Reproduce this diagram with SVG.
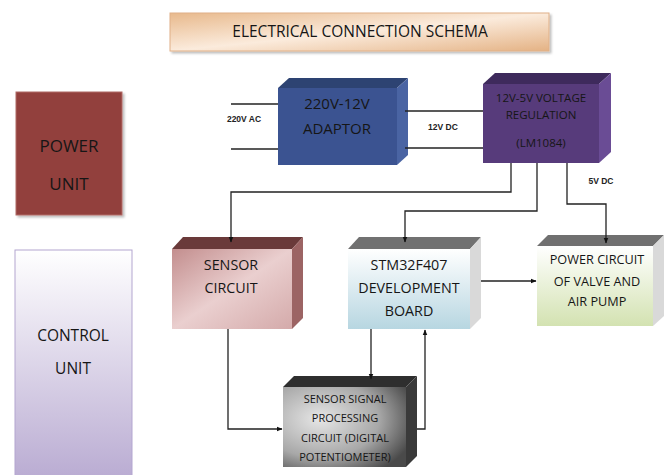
<svg xmlns="http://www.w3.org/2000/svg" width="664" height="475" viewBox="0 0 664 475">
<defs>
<linearGradient id="gTitle" x1="0" y1="0" x2="1" y2="1">
<stop offset="0" stop-color="#E8B98C"/><stop offset="0.5" stop-color="#FBEBDC"/><stop offset="1" stop-color="#E4B284"/>
</linearGradient>
<linearGradient id="gCtrl" x1="0" y1="0" x2="0" y2="1">
<stop offset="0" stop-color="#FFFFFF"/><stop offset="1" stop-color="#B9ABD2"/>
</linearGradient>
<linearGradient id="gSensor" x1="0" y1="0" x2="1" y2="1">
<stop offset="0" stop-color="#C38E8E"/><stop offset="0.5" stop-color="#EACFCF"/><stop offset="1" stop-color="#D4AAAA"/>
</linearGradient>
<linearGradient id="gStm" x1="0" y1="0" x2="0" y2="1">
<stop offset="0" stop-color="#FFFFFF"/><stop offset="1" stop-color="#B7D6E1"/>
</linearGradient>
<linearGradient id="gPow" x1="0" y1="0" x2="0" y2="1">
<stop offset="0" stop-color="#FFFFFF"/><stop offset="1" stop-color="#D3E2B1"/>
</linearGradient>
<radialGradient id="gSsp" cx="0.3" cy="0.4" r="0.8">
<stop offset="0" stop-color="#E6E6E6"/><stop offset="0.6" stop-color="#A8A8A8"/><stop offset="1" stop-color="#4A4A4A"/>
</radialGradient>
<marker id="arr" viewBox="0 0 10 10" refX="9" refY="5" markerWidth="6" markerHeight="6" orient="auto" markerUnits="userSpaceOnUse">
<path d="M0,1 L10,5 L0,9 z" fill="#111"/>
</marker>
<filter id="sh" x="-10%" y="-10%" width="130%" height="130%">
<feDropShadow dx="2" dy="2" stdDeviation="1.2" flood-color="#000" flood-opacity="0.25"/>
</filter>
</defs>
<style>
.t{font-family:"Open Sans","Liberation Sans",sans-serif;fill:#161616;text-anchor:middle;}
.lbl{font-family:"Liberation Sans",Arial,sans-serif;font-size:8.5px;font-weight:bold;fill:#222;text-anchor:middle;}
.w{fill:none;stroke:#222;stroke-width:1.3;}
</style>
<rect width="664" height="475" fill="#FFFFFF"/>

<g id="title">
<rect x="170" y="13" width="379" height="38" fill="url(#gTitle)" stroke="#E0B088" stroke-width="1" filter="url(#sh)"/>
<text class="t" x="360" y="37" font-size="15.5">ELECTRICAL CONNECTION SCHEMA</text>
</g>

<g id="power-unit">
<rect x="16" y="92" width="106" height="123" fill="#923F3C" stroke="#B06A66" stroke-width="1" filter="url(#sh)"/>
<text class="t" font-size="17" x="69" y="152">POWER</text>
<text class="t" font-size="17" x="69" y="190">UNIT</text>
</g>

<g id="control-unit">
<rect x="15" y="250" width="117" height="230" fill="url(#gCtrl)" stroke="#B3A6D0" stroke-width="1"/>
<text class="t" font-size="15.5" x="73" y="341">CONTROL</text>
<text class="t" font-size="15.5" x="73" y="374">UNIT</text>
</g>

<g id="adaptor">
<polygon points="278,88 289,78 408,78 397,88" fill="#2D4372"/>
<polygon points="397,88 408,78 408,155 397,165" fill="#4A64A3"/>
<rect x="278" y="88" width="119" height="77" fill="#3B5391"/>
<text class="t" font-size="15" x="337" y="109">220V-12V</text>
<text class="t" font-size="15" x="337" y="134">ADAPTOR</text>
</g>

<g id="regulator">
<polygon points="483,84 495,73 611,73 599,84" fill="#3E2A5C"/>
<polygon points="599,84 611,73 611,152 599,163" fill="#6A4C95"/>
<rect x="483" y="84" width="116" height="79" fill="#573B7B"/>
<text class="t" font-size="11.5" x="541" y="102">12V-5V VOLTAGE</text>
<text class="t" font-size="11.5" x="541" y="119">REGULATION</text>
<text class="t" font-size="11.5" x="541" y="147">(LM1084)</text>
</g>

<g id="sensor-circuit">
<polygon points="172,249 183,237 303,237 292,249" fill="#6A3A3A"/>
<polygon points="292,249 303,237 303,318 292,329" fill="#9C6464"/>
<rect x="172" y="249" width="120" height="80" fill="url(#gSensor)"/>
<text class="t" font-size="14.3" x="231" y="270">SENSOR</text>
<text class="t" font-size="14.3" x="231" y="293">CIRCUIT</text>
</g>

<g id="stm32">
<polygon points="348,249 359,237 481,237 470,249" fill="#717171"/>
<polygon points="470,249 481,237 481,318 470,329" fill="#D9D9D9"/>
<rect x="348" y="249" width="122" height="80" fill="url(#gStm)"/>
<text class="t" font-size="14.3" x="409" y="270">STM32F407</text>
<text class="t" font-size="14.3" x="409" y="293">DEVELOPMENT</text>
<text class="t" font-size="14.3" x="409" y="316">BOARD</text>
</g>

<g id="power-circuit">
<polygon points="537,246 548,235 664,235 653,246" fill="#707070"/>
<polygon points="653,246 664,235 664,316 653,326" fill="#D9D9D9"/>
<rect x="537" y="246" width="116" height="80" fill="url(#gPow)"/>
<text class="t" font-size="12.7" x="597" y="264">POWER CIRCUIT</text>
<text class="t" font-size="12.7" x="597" y="286">OF VALVE AND</text>
<text class="t" font-size="12.7" x="597" y="306">AIR PUMP</text>
</g>

<g id="signal-processing">
<polygon points="283,387 294,376 417,376 406,387" fill="#2E2E2E"/>
<polygon points="406,387 417,376 417,456 406,467" fill="#3A3A3A"/>
<rect x="283" y="387" width="123" height="80" fill="url(#gSsp)"/>
<text class="t" font-size="11" x="345" y="403">SENSOR SIGNAL</text>
<text class="t" font-size="11" x="345" y="422">PROCESSING</text>
<text class="t" font-size="11" x="345" y="442">CIRCUIT (DIGITAL</text>
<text class="t" font-size="11" x="345" y="461">POTENTIOMETER)</text>
</g>

<g id="connectors">
<line class="w" x1="231" y1="104" x2="278" y2="104"/>
<line class="w" x1="231" y1="149" x2="278" y2="149"/>
<line class="w" x1="405" y1="111" x2="483" y2="111"/>
<line class="w" x1="405" y1="148" x2="483" y2="148"/>
<polyline class="w" points="511,163 511,192 231,192 231,242" marker-end="url(#arr)"/>
<polyline class="w" points="537,163 537,211 405,211 405,242" marker-end="url(#arr)"/>
<polyline class="w" points="567,163 567,204 606,204 606,243" marker-end="url(#arr)"/>
<line class="w" x1="481" y1="281" x2="536" y2="281" marker-end="url(#arr)"/>
<polyline class="w" points="228,329 228,429 282,429" marker-end="url(#arr)"/>
<line class="w" x1="371" y1="329" x2="371" y2="379" marker-end="url(#arr)"/>
<polyline class="w" points="417,429 425,429 425,330" marker-end="url(#arr)"/>
<text class="lbl" x="244" y="122">220V AC</text>
<text class="lbl" x="443" y="130">12V DC</text>
<text class="lbl" x="601" y="184">5V DC</text>
</g>
</svg>
